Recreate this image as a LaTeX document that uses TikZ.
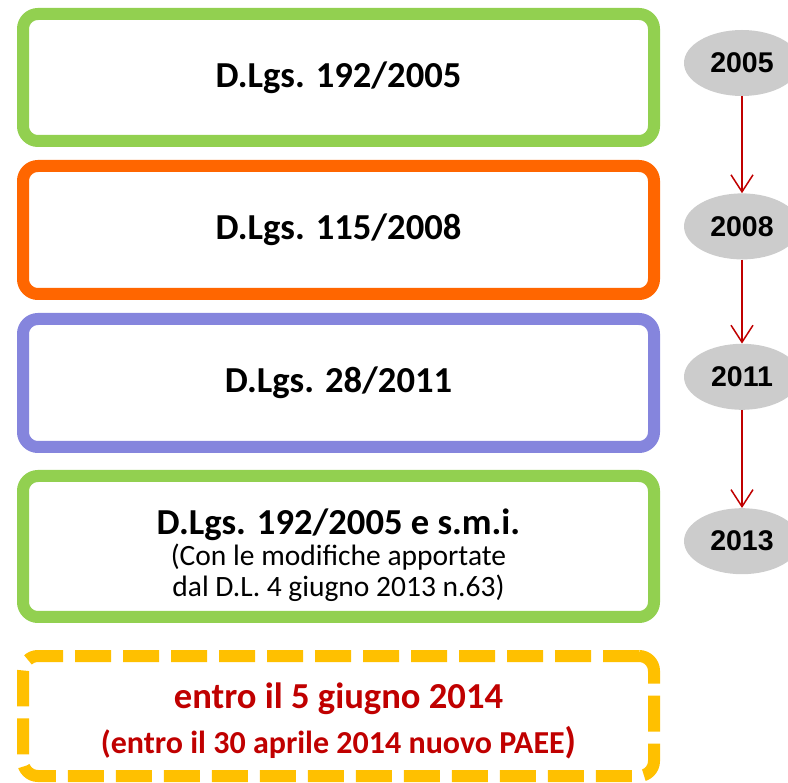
\documentclass[tikz,border=0pt]{standalone}
\usepackage{fontspec}
\setmainfont{Carlito}
\newfontfamily\yearfont{Liberation Sans}
\usetikzlibrary{shapes.geometric, positioning, arrows.meta}
\definecolor{lawgreen}{HTML}{92D050}
\definecolor{laworange}{HTML}{FF6600}
\definecolor{lawblue}{HTML}{8585DD}
\definecolor{lawyellow}{HTML}{FFC000}
\definecolor{duered}{HTML}{C00000}
\definecolor{yeargray}{HTML}{CCCCCC}

\begin{document}
\begin{tikzpicture}[x=1pt,y=1pt,>={Straight Barb[length=17pt,width=22pt]},
        law/.style={rectangle,rounded corners=15pt,line width=12pt,draw,fill=white,minimum width=631pt,
            inner sep=0pt,align=center,font=\bfseries\fontsize{36.6}{44}\selectfont},
        lawtext/.style={align=center,inner sep=0pt},
        year/.style={ellipse,fill=yeargray,minimum width=116pt,minimum height=66pt,inner sep=0pt,
            font=\yearfont\bfseries\fontsize{28.5}{34}\selectfont},
        link/.style={->,draw=duered,line width=1.5pt}]
        \useasboundingbox (0,0) rectangle (788,-783);
        % laws
        \node[law,draw=lawgreen,minimum height=127pt] (1) at (338.5,-77.5) {D.Lgs. 192/2005};
        \node[law,draw=laworange,minimum height=128pt] (2) [below=13pt of 1] {D.Lgs. 115/2008};
        \node[law,draw=lawblue,minimum height=128pt] (3) [below=13pt of 2] {D.Lgs. 28/2011};
        \node[law,draw=lawgreen,minimum height=141pt] (4) [below=17pt of 3] {};
        \node[law,draw=lawyellow,dash pattern=on 36pt off 12pt,minimum height=120pt] (5) [below=27pt of 4] {};
        % texts of the last two boxes
        \node[lawtext,font=\fontsize{29.5}{31.5}\selectfont] (t4) at ([yshift=-9pt]4.center)
            {{\bfseries\fontsize{36.6}{44}\selectfont D.Lgs. 192/2005 e s.m.i.}\\[-1pt]
             (Con le modifiche apportate\\
             dal D.L. 4 giugno 2013 n.63)};
        \node[lawtext,text=duered,font=\bfseries\fontsize{36.6}{45}\selectfont] (t5) at ([yshift=-5pt]5.center)
            {entro il 5 giugno 2014\\
             {\fontsize{32}{38}\selectfont (entro il 30 aprile 2014 nuovo PAEE}{)}};
        % years
        \node[year] (y1) at (742,-63) {2005};
        \node[year] (y2) [below=97pt of y1] {2008};
        \node[year] (y3) [below=84pt of y2] {2011};
        \node[year] (y4) [below=98pt of y3] {2013};

        \path[link]
        (y1) edge (y2)
        (y2) edge (y3)
        (y3) edge (y4);
    \end{tikzpicture}
\end{document}
